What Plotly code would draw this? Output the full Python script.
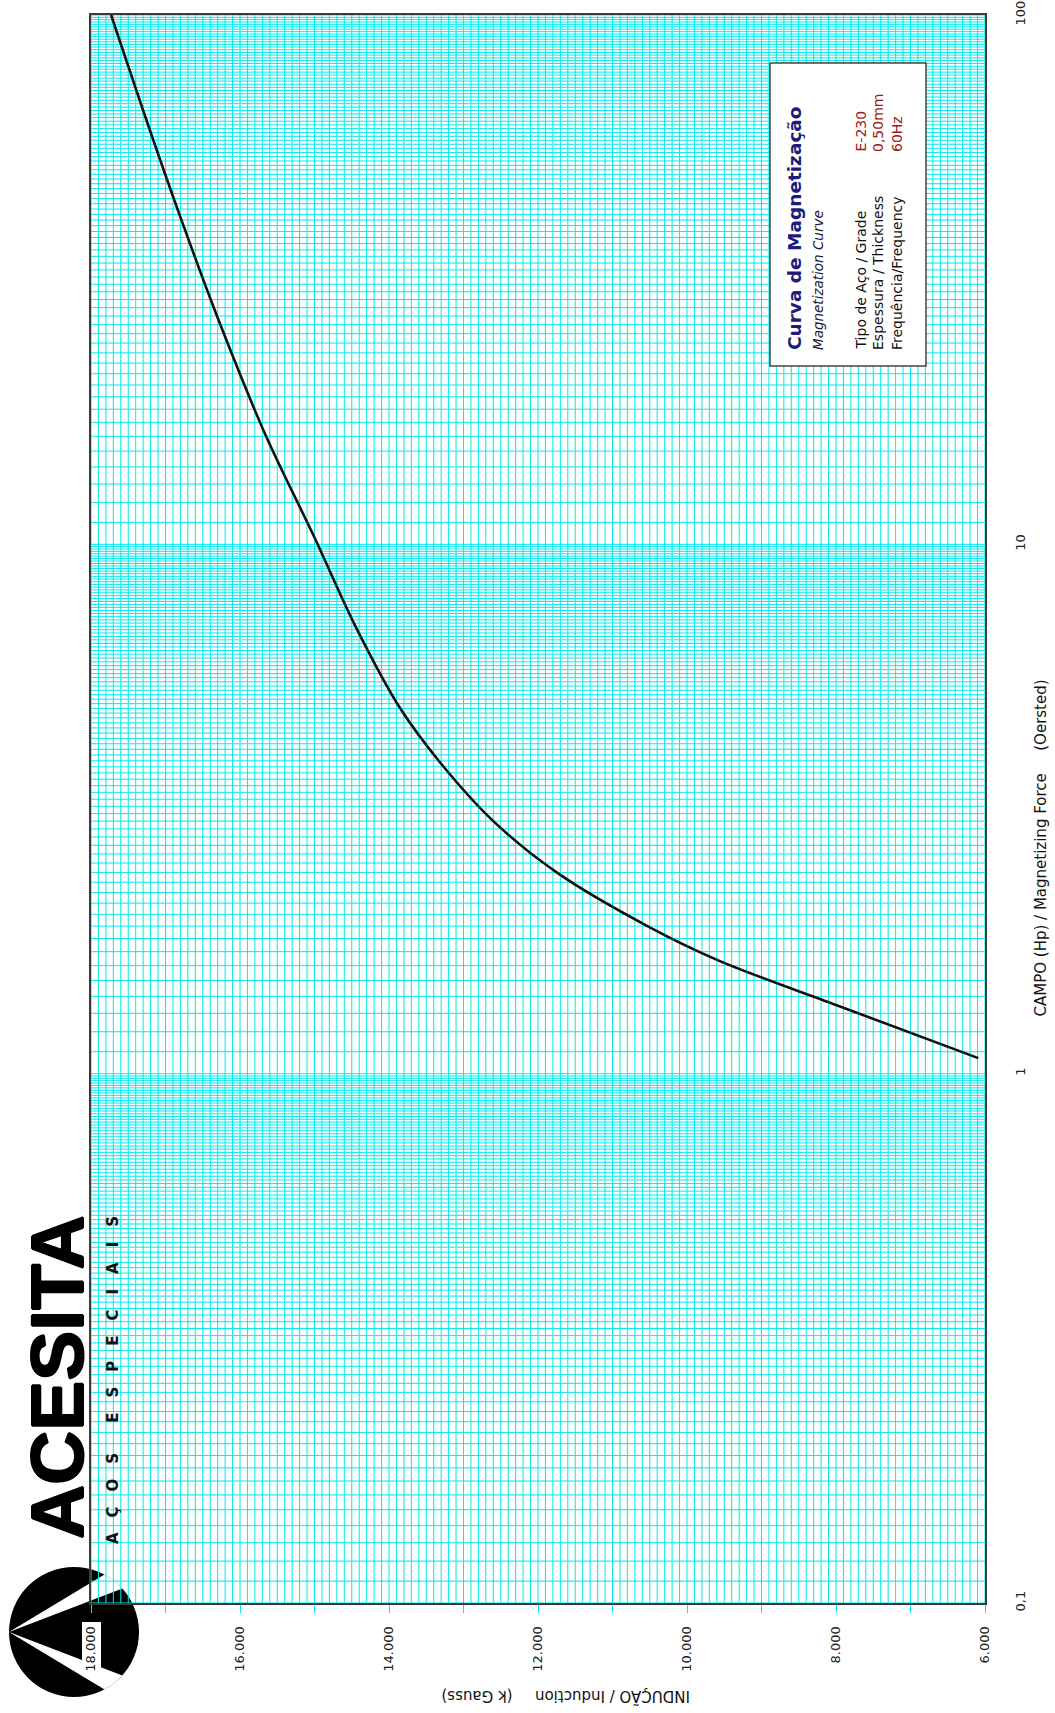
import math
import plotly.graph_objects as go

# Magnetization curve, E-230 steel, 0,50 mm, 60 Hz
campo_oe = [1.07, 1.35, 1.63, 1.89, 2.4, 3.0, 3.85, 4.9, 7.0, 10.3, 16.0, 25.7, 41.5, 66.0, 100.0]
inducao_g = [6090, 8010, 9550, 10500, 11750, 12600, 13300, 13850, 14450, 15000, 15650, 16250, 16800, 17300, 17730]

# Axis ticks
b_tickvals = list(range(6000, 18001, 1000))
b_ticktext = [f"{v // 1000}.000" if v % 2000 == 0 else "" for v in b_tickvals]
h_tickvals = [0.1, 1, 10, 100]
h_ticktext = ["0,1", "1", "10", "100"]

# Graph-paper rulings
B_MIN, B_MAX, B_STEP = 6000, 18000, 100
H_DECADES = [0.1, 1, 10]

W, H = 1055, 1713
L, R, T, Bm = 91, 985, 15, 1603


def px(x):
    return (x - L) / (R - L)


def py(y):
    return (Bm - y) / (Bm - T)


# vertical rulings (constant induction)
gx, gy = [], []
for b in range(B_MIN, B_MAX + 1, B_STEP):
    gx += [b, b, None]
    gy += [0.1, 100, None]
# horizontal rulings (constant field), 90 per decade
hx, hy = [], []
for d in H_DECADES:
    for k in range(10, 100):
        v = round(d * k / 10, 4)
        hx += [B_MAX, B_MIN, None]
        hy += [v, v, None]
hx += [B_MAX, B_MIN, None]
hy += [100, 100, None]

CYAN = "#00ecf0"

fig = go.Figure()
fig.add_trace(go.Scatter(x=gx, y=gy, mode="lines", line=dict(color=CYAN, width=1),
                         hoverinfo="skip", showlegend=False))
fig.add_trace(go.Scatter(x=hx, y=hy, mode="lines", line=dict(color=CYAN, width=1),
                         hoverinfo="skip", showlegend=False))
fig.add_trace(go.Scatter(x=inducao_g, y=campo_oe, mode="lines",
                         line=dict(color="#111111", width=2.6, shape="spline", smoothing=0.9),
                         showlegend=False))

# Logo: black disc with a white chevron
cx, cy, rr = 74, 1632, 65
shapes = [dict(type="circle", xref="paper", yref="paper",
               x0=px(cx - rr), x1=px(cx + rr), y0=py(cy + rr), y1=py(cy - rr),
               fillcolor="black", line=dict(width=0), layer="below")]


def wedge(a0, a1):
    pts = [(cx - rr, cy)]
    n = 8
    for i in range(n + 1):
        a = math.radians(a0 + (a1 - a0) * i / n)
        pts.append((cx + rr * math.cos(a), cy - rr * math.sin(a)))
    path = "M " + " L ".join(f"{px(x):.5f},{py(y):.5f}" for x, y in pts) + " Z"
    return dict(type="path", xref="paper", yref="paper", path=path,
                fillcolor="white", line=dict(width=0), layer="below")


shapes.append(wedge(42, 62))
shapes.append(wedge(-62, -42))
# white plate behind the first induction label
shapes.append(dict(type="rect", xref="paper", yref="paper",
                   x0=px(82), x1=px(101), y0=py(1675), y1=py(1622),
                   fillcolor="white", line=dict(width=0), layer="below"))
# info box
shapes.append(dict(type="rect", xref="paper", yref="paper",
                   x0=px(770), x1=px(926), y0=py(366), y1=py(63),
                   fillcolor="white", line=dict(color="#444444", width=1.5), layer="above"))

TXT = "DejaVu Sans"
ann = []


def add(text, x, y, size, color="#111111", family=TXT, xa="center", ya="middle", angle=-90, shadow=None):
    f = dict(family=family, size=size, color=color)
    if shadow:
        f["shadow"] = shadow
    ann.append(dict(text=text, x=px(x), y=py(y), xref="paper", yref="paper",
                    showarrow=False, textangle=angle, xanchor=xa, yanchor=ya, font=f))


heavy = "1px 0px 0px black, -1px 0px 0px black, 0px 1px 0px black, 0px -1px 0px black"
add("<b>ACESITA</b>", 57, 1377, 75, color="black", family="Liberation Sans", shadow=heavy)
gap = "\u2003"
spaced = gap.join("AÇOS") + gap + gap + gap.join("ESPECIAIS")
add("<b>" + spaced + "</b>", 113, 1380, 15, color="#111111")

add("<b>Curva de Magnetização</b>", 794, 352, 18.5, color="#1c1c80", ya="bottom")
add("<i>Magnetization Curve</i>", 818, 352, 13.5, color="#1a1a40", ya="bottom")
add("Tipo de Aço / Grade", 860, 352, 14, ya="bottom")
add("Espessura / Thickness", 878, 352, 14, ya="bottom")
add("Frequência/Frequency", 897, 352, 14, ya="bottom")
add("E-230", 860, 154, 14, color="#a01818", ya="bottom")
add("0,50mm", 878, 154, 14, color="#a01818", ya="bottom")
add("60Hz", 897, 154, 14, color="#a01818", ya="bottom")

add("CAMPO (Hp) / Magnetizing Force\u2003\u2002(Oersted)", 1040, 1019, 15, ya="bottom")
add("INDUÇÃO / Induction\u2003\u2002(k Gauss)", 566, 1697, 15, angle=180)

fig.update_layout(
    width=W, height=H,
    margin=dict(l=L, r=W - R, t=T, b=H - Bm),
    paper_bgcolor="white", plot_bgcolor="rgba(0,0,0,0)",
    shapes=shapes, annotations=ann, showlegend=False,
    xaxis=dict(range=[B_MAX, B_MIN], tickvals=b_tickvals, ticktext=b_ticktext,
               tickangle=-90, ticks="outside", ticklen=8, tickcolor=CYAN, tickwidth=1,
               ticklabelstandoff=8, automargin=False,
               tickfont=dict(family=TXT, size=13, color="#222222"),
               showgrid=False, zeroline=False, showline=True, linecolor="#3a3a3a",
               linewidth=2, mirror=True),
    yaxis=dict(type="log", range=[-1, 2], side="right", tickvals=h_tickvals,
               ticktext=h_ticktext, tickangle=-90, ticks="", ticklabelstandoff=22,
               automargin=False,
               tickfont=dict(family=TXT, size=13, color="#222222"),
               showgrid=False, zeroline=False, showline=True, linecolor="#3a3a3a",
               linewidth=2, mirror=True),
)

fig.write_html("out.html")
